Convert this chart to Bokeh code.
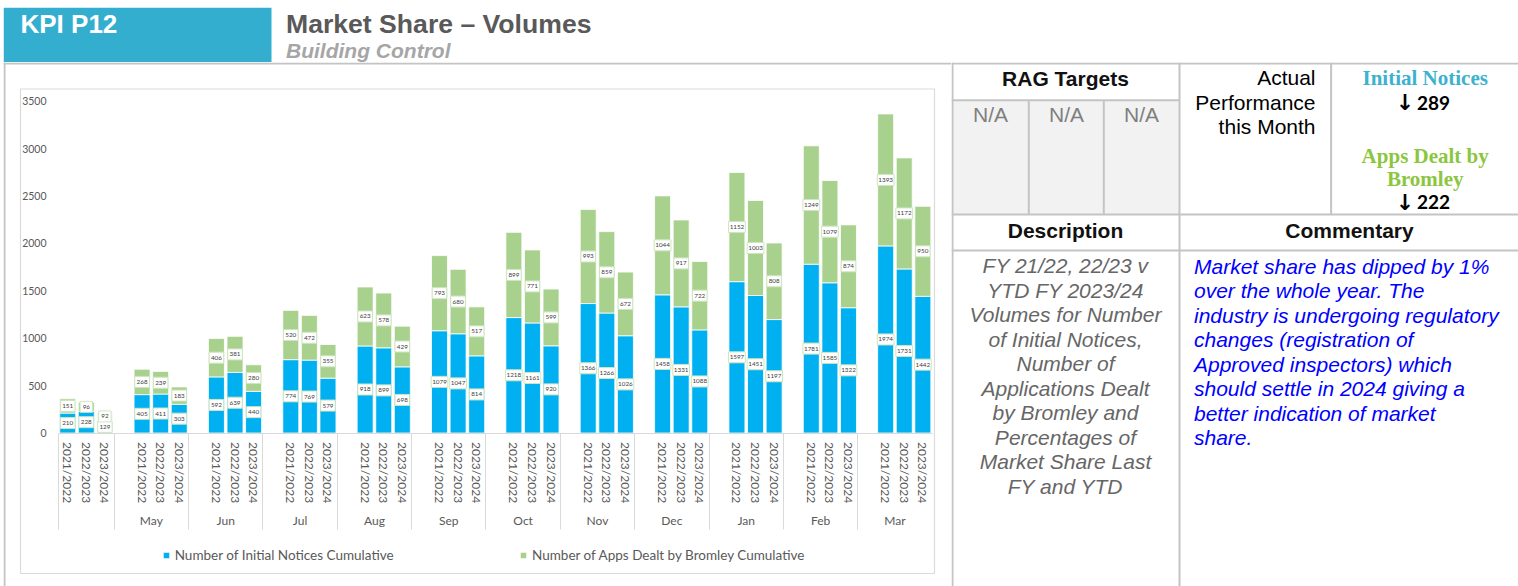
from bokeh.plotting import figure
from bokeh.layouts import column, row
from bokeh.models import (ColumnDataSource, Range1d, LinearAxis, FixedTicker, Legend,
                          LegendItem, BoxAnnotation, Span)
from bokeh.core.properties import value
from bokeh.embed import file_html
from bokeh.resources import INLINE

# ---------------- data ----------------
MONTHS = ["", "May", "Jun", "Jul", "Aug", "Sep", "Oct", "Nov", "Dec", "Jan", "Feb", "Mar"]
YEARS = ["2021/2022", "2022/2023", "2023/2024"]

INITIAL_2122 = [210, 405, 592, 774, 918, 1079, 1218, 1366, 1458, 1597, 1781, 1974]
INITIAL_2223 = [228, 411, 639, 769, 899, 1047, 1161, 1266, 1331, 1451, 1585, 1731]
INITIAL_2324 = [129, 303, 440, 579, 698, 814, 920, 1026, 1088, 1197, 1322, 1442]

APPS_2122 = [151, 268, 406, 520, 623, 793, 899, 993, 1044, 1152, 1249, 1393]
APPS_2223 = [96, 239, 381, 472, 578, 680, 771, 859, 917, 1003, 1079, 1172]
APPS_2324 = [92, 183, 280, 355, 429, 517, 599, 672, 722, 808, 874, 950]

Y_TICKS = [0, 500, 1000, 1500, 2000, 2500, 3000, 3500]
SERIES_NAMES = ["Number of Initial Notices Cumulative",
                "Number of Apps Dealt by Bromley Cumulative"]

HEADER_CODE = "KPI P12"
HEADER_TITLE = "Market Share \u2013 Volumes"
HEADER_SUB = "Building Control"
RAG_TITLE = "RAG Targets"
RAG_VALUES = ["N/A", "N/A", "N/A"]
ACTUAL_LINES = ["Actual", "Performance", "this Month"]
PERF_IN_LABEL = ["Initial Notices"]
PERF_IN_VALUE = "289"
PERF_APPS_LABEL = ["Apps Dealt by", "Bromley"]
PERF_APPS_VALUE = "222"
DESC_TITLE = "Description"
COMM_TITLE = "Commentary"
DESC_LINES = ["FY 21/22, 22/23 v", "YTD FY 2023/24", "Volumes for Number",
              "of Initial Notices,", "Number of", "Applications Dealt",
              "by Bromley and", "Percentages of", "Market Share Last", "FY and YTD"]
COMM_LINES = ["Market share has dipped by 1%", "over the whole year.  The",
              "industry is undergoing regulatory", "changes (registration of",
              "Approved inspectors) which", "should settle in 2024 giving a",
              "better indication of market", "share."]

# ---------------- styles ----------------
BLUE = "#00B0F0"
GREEN = "#A9D18E"
KPI_BLUE = "#34AECF"
LINE_GREY = "#C4C4C4"
AXIS_TEXT = "#595959"
ARIAL = "Liberation Sans"

# ---------------- header ----------------
HW, HH = 1515, 55
hd = figure(width=HW, height=HH, x_range=Range1d(0, HW), y_range=Range1d(HH, 0),
            min_border=0, toolbar_location=None, output_backend="svg",
            x_axis_location=None, y_axis_location=None, outline_line_color=None)
hd.grid.visible = False
hd.quad(left=[0], right=[268], top=[0], bottom=[HH], fill_color=KPI_BLUE, line_color=None)
hd.text(x=[17], y=[16.5], text=[HEADER_CODE], text_font=value(ARIAL), text_font_style="bold",
        text_font_size="26px", text_color="white", text_baseline="middle")
hd.text(x=[282.5], y=[16.5], text=[HEADER_TITLE], text_font=value(ARIAL), text_font_style="bold",
        text_font_size="26.6px", text_color="#595959", text_baseline="middle")
hd.text(x=[282.5], y=[42.5], text=[HEADER_SUB], text_font=value(ARIAL),
        text_font_style="bold italic", text_font_size="21px", text_color="#A6A6A6",
        text_baseline="middle")

# ---------------- chart ----------------
CW, CH = 948, 524
SLOT_PX = 18.59       # pixel width of one category slot
SLOT0_PX = 64.2       # pixel x of the first bar centre
BASE_PX = 370.5       # pixel y of value 0 (from top)
PX_PER_UNIT = 331.7 / 3500.0

n_years = len(YEARS)
initial = [INITIAL_2122, INITIAL_2223, INITIAL_2324]
apps = [APPS_2122, APPS_2223, APPS_2324]

xs, inv, tot, alpha = [], [], [], []
lab_x, lab_y, lab_t, lab_w = [], [], [], []
year_labels = {}
for g in range(len(MONTHS)):
    for k in range(n_years):
        slot = g * (n_years + 1) + k
        a = initial[k][g]
        b = apps[k][g]
        xs.append(slot)
        inv.append(a)
        tot.append(a + b)
        alpha.append(0.22 if (g == 0 and k == n_years - 1) else 1.0)
        year_labels[slot] = YEARS[k]
        for yv, t in ((a / 2.0, a), (a + b / 2.0, b)):
            lab_x.append(slot)
            lab_y.append(yv)
            lab_t.append(str(t))
            lab_w.append(8 + 2.2 * len(str(t)))

# group boundaries (each group after the first has a leading empty slot)
sep_ticks = [-0.5] + [g * (n_years + 1) - 1.5 for g in range(1, len(MONTHS))]
last_edge = (len(MONTHS) - 1) * (n_years + 1) + n_years - 0.5
edges = sep_ticks + [last_edge]
month_labels = {}
for g, m in enumerate(MONTHS):
    if m:
        month_labels[(edges[g] + edges[g + 1]) / 2.0] = m

x_range = Range1d(-SLOT0_PX / SLOT_PX, (CW - SLOT0_PX) / SLOT_PX)
y_range = Range1d(-(CH - BASE_PX) / PX_PER_UNIT, BASE_PX / PX_PER_UNIT)

ch = figure(width=CW, height=CH, x_range=x_range, y_range=y_range, min_border=0,
            toolbar_location=None, output_backend="svg", x_axis_location=None,
            y_axis_location=None, outline_line_color=None)
ch.grid.visible = False

src = ColumnDataSource(dict(x=xs, inv=inv, tot=tot, alpha=alpha))
r_in = ch.vbar(x="x", bottom=0, top="inv", width=0.86, fill_color=BLUE, fill_alpha="alpha",
               line_color="white", line_width=0.8, source=src)
r_ap = ch.vbar(x="x", bottom="inv", top="tot", width=0.86, fill_color=GREEN, fill_alpha="alpha",
               line_color="white", line_width=0.8, source=src)

lab_src = ColumnDataSource(dict(x=lab_x, y=lab_y, t=lab_t, w=lab_w))
ch.rect(x="x", y="y", width="w", height=11, width_units="screen", height_units="screen",
        fill_color="white", line_color="#CFE5C0", line_width=1, source=lab_src)
ch.text(x="x", y="y", text="t", text_font=value("Lato"), text_font_size="6.3px",
        text_align="center", text_baseline="middle", text_color="#404040", source=lab_src)

# y axis
yax = LinearAxis(fixed_location=(47 - SLOT0_PX) / SLOT_PX, ticker=FixedTicker(ticks=Y_TICKS),
                 axis_line_color=None, major_tick_line_color=None, minor_tick_line_color=None,
                 major_tick_out=0, major_tick_in=0, major_label_standoff=4,
                 major_label_text_font="Lato", major_label_text_font_size="10.5px",
                 major_label_text_color=AXIS_TEXT)
ch.add_layout(yax, "left")

# separators + baseline
sax = LinearAxis(fixed_location=0, ticker=FixedTicker(ticks=sep_ticks, minor_ticks=[]),
                 bounds=(-0.5, last_edge), axis_line_color="#D9D9D9", axis_line_width=1,
                 major_tick_line_color="#D9D9D9", major_tick_out=96, major_tick_in=0,
                 minor_tick_line_color=None, major_label_text_color=None)
ch.add_layout(sax, "below")

# year labels
xax = LinearAxis(fixed_location=0, ticker=FixedTicker(ticks=xs, minor_ticks=[]),
                 major_label_overrides=year_labels, major_label_orientation="vertical",
                 axis_line_color=None, major_tick_line_color=None, minor_tick_line_color=None,
                 major_tick_out=0, major_tick_in=0, major_label_standoff=9,
                 major_label_text_font="Lato", major_label_text_font_size="12px",
                 major_label_text_color=AXIS_TEXT)
ch.add_layout(xax, "below")

# month labels
mticks = sorted(month_labels.keys())
max_ = LinearAxis(fixed_location=0, ticker=FixedTicker(ticks=mticks, minor_ticks=[]),
                  major_label_overrides=month_labels, axis_line_color=None,
                  major_tick_line_color=None, minor_tick_line_color=None,
                  major_tick_out=0, major_tick_in=0, major_label_standoff=80,
                  major_label_text_font="Lato", major_label_text_font_size="12px",
                  major_label_text_color=AXIS_TEXT)
ch.add_layout(max_, "below")

# legends
for rr, name, lx in ((r_in, SERIES_NAMES[0], 158.7), (r_ap, SERIES_NAMES[1], 516.0)):
    lg = Legend(items=[LegendItem(label=name, renderers=[rr])], location=(lx, 23),
                orientation="horizontal", glyph_width=8, glyph_height=8, label_standoff=5,
                padding=0, margin=0, spacing=0, border_line_color=None,
                background_fill_alpha=0, label_text_font="Lato", label_text_font_size="13.5px",
                label_text_color=AXIS_TEXT, label_height=16)
    ch.add_layout(lg, "center")

# chart box and panel borders
ch.add_layout(BoxAnnotation(left=17, right=931, top=26.5, bottom=511, left_units="canvas",
                            right_units="canvas", top_units="canvas", bottom_units="canvas",
                            fill_color=None, line_color="#888888", line_width=1.2))
ch.add_layout(Span(location=1, location_units="canvas", dimension="height",
                   line_color=LINE_GREY, line_width=2))
ch.add_layout(Span(location=1, location_units="canvas", dimension="width",
                   line_color=LINE_GREY, line_width=2))

# ---------------- table ----------------
TW, TH = 567, 524
tb = figure(width=TW, height=TH, x_range=Range1d(0, TW), y_range=Range1d(TH, 0),
            min_border=0, toolbar_location=None, output_backend="svg",
            x_axis_location=None, y_axis_location=None, outline_line_color=None)
tb.grid.visible = False
tb.quad(left=[0], right=[228], top=[38], bottom=[152], fill_color="#F2F2F2", line_color=None)
sx0 = [0, 0, 0, 0, 1, 77.3, 152.3, 228, 379.6]
sy0 = [1, 37.7, 152, 188, 0, 37.7, 37.7, 0, 0]
sx1 = [TW, 228, TW, TW, 1, 77.3, 152.3, 228, 379.6]
sy1 = [1, 37.7, 152, 188, TH, 152, 152, TH, 152]
tb.segment(x0=sx0, y0=sy0, x1=sx1, y1=sy1, line_color=LINE_GREY, line_width=2)

def ttext(x, y, t, color="black", style="normal", size="21px", align="center", font=ARIAL):
    tb.text(x=x, y=y, text=t, text_font=value(font), text_font_style=style,
            text_font_size=size, text_color=color, text_align=align, text_baseline="middle")

ttext([114], [16], [RAG_TITLE], style="bold", color="#111111")
ttext([39, 115, 190], [51.5] * 3, RAG_VALUES, color="#7F7F7F")
ttext([364] * 3, [15, 39.5, 64], ACTUAL_LINES, align="right")
ttext([473.7], [15], PERF_IN_LABEL, color="#3CB2CF", style="bold", font="Liberation Serif")
ttext([473.7] * 2, [93, 116], PERF_APPS_LABEL, color="#8CC63F", style="bold",
      font="Liberation Serif")
ttext([453.5, 453.5], [40, 139.5], ["\u2193", "\u2193"], style="bold", size="22px",
      font="DejaVu Sans")
ttext([465.5, 465.5], [40, 139.5], [PERF_IN_VALUE, PERF_APPS_VALUE], style="bold",
      size="19px", align="left", font="Lato")
ttext([114], [167.5], [DESC_TITLE], style="bold", color="#111111")
ttext([398], [167.5], [COMM_TITLE], style="bold", color="#111111")
ttext([114] * len(DESC_LINES), [203 + 24.5 * i for i in range(len(DESC_LINES))], DESC_LINES,
      color="#666666", style="italic")
ttext([242.5] * len(COMM_LINES), [203.5 + 24.5 * i for i in range(len(COMM_LINES))], COMM_LINES,
      color="#0000FF", style="italic", align="left")

layout = column(hd, row(ch, tb, spacing=0), spacing=0)
layout.margin = (7, 0, 0, 3)

open("out.html", "w").write(file_html(layout, INLINE))
